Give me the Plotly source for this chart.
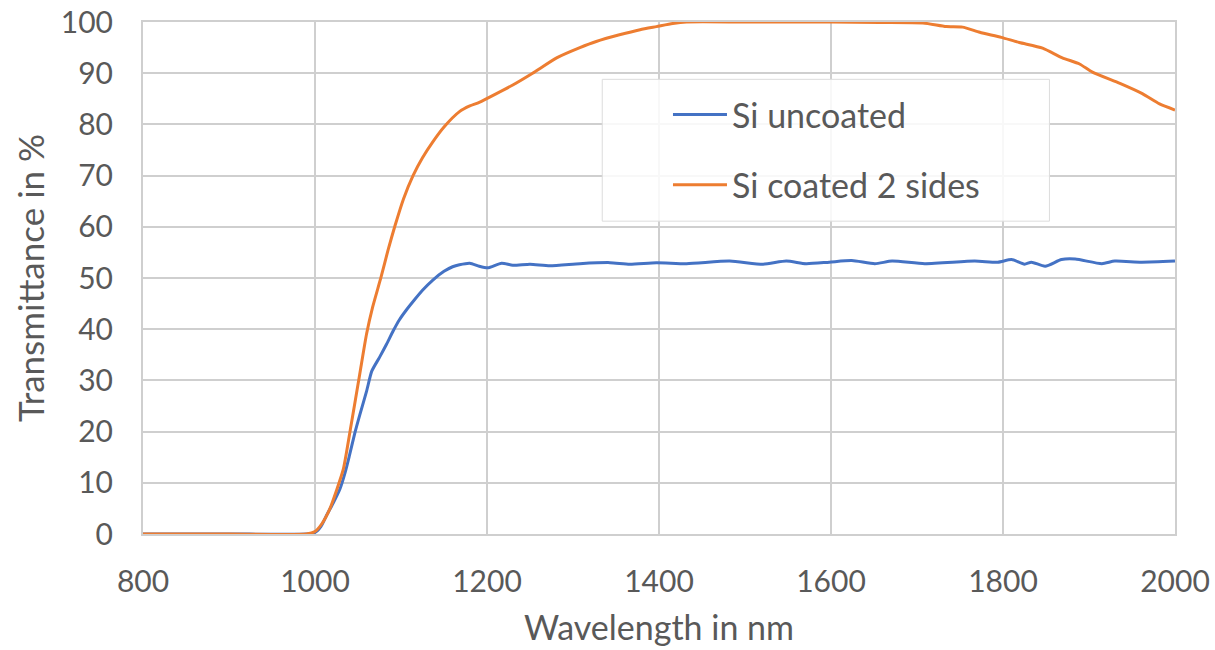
import plotly.graph_objects as go

# --- data ---
wl_uncoated = [800, 900, 990, 1000, 1007, 1013, 1021, 1029, 1035, 1040, 1046, 1052, 1060, 1066,
               1075, 1083, 1091, 1098, 1106, 1115, 1125, 1137, 1150, 1160, 1168, 1180, 1191, 1201,
               1217, 1230, 1250, 1273, 1308, 1343, 1366, 1397, 1432, 1482, 1521, 1548, 1571, 1598,
               1624, 1651, 1671, 1709, 1767, 1794, 1810, 1825, 1833, 1849, 1868, 1884, 1915, 1930,
               1961, 2000]
uncoated = [0, 0, 0, 0.3, 1.5, 3.5, 6.0, 8.8, 12.0, 15.3, 19.5, 23.2, 27.9, 31.8,
            34.5, 37.0, 39.7, 41.8, 43.7, 45.6, 47.6, 49.6, 51.3, 52.2, 52.6, 52.9, 52.3, 52.0,
            52.9, 52.5, 52.7, 52.4, 52.8, 53.0, 52.7, 53.0, 52.8, 53.3, 52.7, 53.3, 52.8, 53.1,
            53.4, 52.8, 53.3, 52.8, 53.3, 53.1, 53.6, 52.7, 53.1, 52.3, 53.6, 53.7, 52.8, 53.3,
            53.1, 53.3]

wl_coated = [800, 900, 990, 1000, 1008, 1017, 1025, 1033, 1042, 1052, 1060, 1067, 1077, 1085,
             1093, 1103, 1114, 1125, 1137, 1150, 1168, 1180, 1191, 1211, 1230, 1253, 1281, 1308,
             1327, 1354, 1378, 1397, 1416, 1432, 1500, 1600, 1657, 1707, 1734, 1753, 1773, 1798,
             1819, 1846, 1869, 1889, 1904, 1936, 1962, 1982, 2000]
coated = [0, 0, 0, 0.5, 2.0, 4.8, 8.5, 12.7, 21.3, 31.2, 39.1, 44.3, 50.3, 55.5,
          60.2, 65.5, 70.0, 73.5, 76.6, 79.5, 82.5, 83.6, 84.3, 86.0, 87.7, 90.0, 93.0, 95.0,
          96.2, 97.5, 98.5, 99.1, 99.7, 100, 100, 100, 99.9, 99.8, 99.1, 99.0, 98.0, 97.0,
          96.0, 94.9, 93.0, 91.8, 90.2, 88.0, 86.0, 84.0, 82.8]

x_ticks = [800, 1000, 1200, 1400, 1600, 1800, 2000]
y_ticks = [0, 10, 20, 30, 40, 50, 60, 70, 80, 90, 100]

FONT = "Lato"
TXT = "#595959"
GRID = "#cfcfcf"

fig = go.Figure()
fig.add_trace(go.Scatter(x=wl_uncoated, y=uncoated, mode="lines", name="Si uncoated",
                         line=dict(color="#4472C4", width=3, shape="spline", smoothing=0.6),
                         legendgroup="a"))
fig.add_trace(go.Scatter(x=wl_coated, y=coated, mode="lines", name="Si coated 2 sides",
                         line=dict(color="#ED7D31", width=3, shape="spline", smoothing=0.6),
                         legendgroup="b"))

# legend frame
fig.add_shape(type="rect", xref="x", yref="y", x0=1334, x1=1854, y0=61.1, y1=88.8,
              line=dict(color="#dcdcdc", width=1), fillcolor="rgba(255,255,255,0.85)",
              layer="above")

fig.update_layout(
    width=1215, height=650,
    margin=dict(l=143, r=40, t=22, b=116),
    paper_bgcolor="white", plot_bgcolor="white",
    font=dict(family=FONT, color=TXT, size=30),
    showlegend=True,
    legend=dict(x=0.5087, y=0.875, xanchor="left", yanchor="top",
                bgcolor="rgba(0,0,0,0)", borderwidth=0,
                font=dict(size=34, color=TXT, family=FONT),
                tracegroupgap=23, itemwidth=54),
    xaxis=dict(range=[800, 2000], tickvals=x_ticks, ticktext=[str(v) for v in x_ticks],
               showgrid=True, gridcolor=GRID, gridwidth=2,
               showline=True, linecolor=GRID, linewidth=2, mirror=True,
               zeroline=False, ticks="", ticklabelstandoff=20, automargin=False,
               tickfont=dict(size=30),
               title=dict(text="Wavelength in nm", font=dict(size=34), standoff=19)),
    yaxis=dict(range=[0, 100], tickvals=y_ticks, ticktext=[str(v) for v in y_ticks],
               showgrid=True, gridcolor=GRID, gridwidth=2,
               showline=True, linecolor=GRID, linewidth=2, mirror=True,
               zeroline=False, ticks="", ticklabelstandoff=22, automargin=False,
               tickfont=dict(size=30),
               title=dict(text="Transmittance in %", font=dict(size=35), standoff=6)),
)

fig.write_html("out.html")
